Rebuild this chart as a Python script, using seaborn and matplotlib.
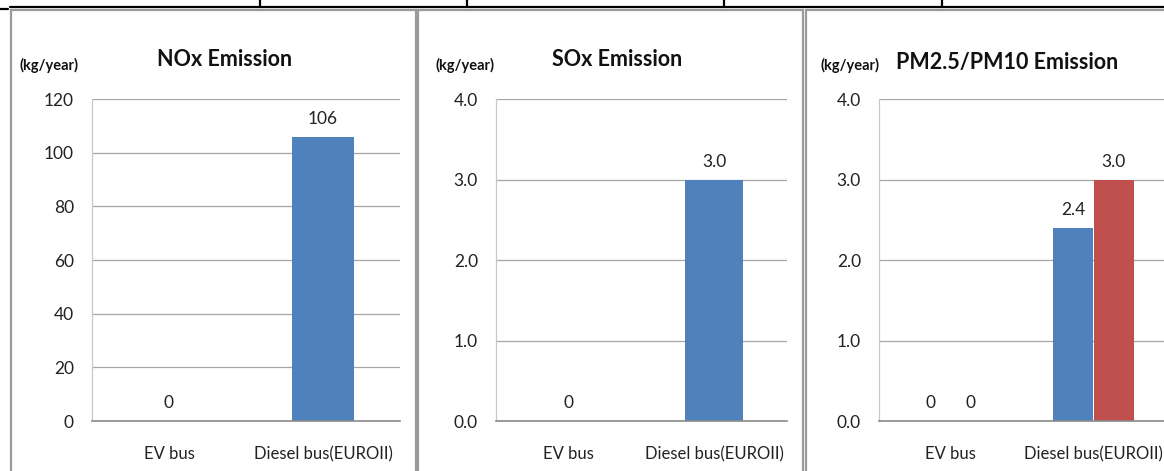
import matplotlib
matplotlib.use("Agg")
import matplotlib.pyplot as plt
from matplotlib.patches import Rectangle
from matplotlib.lines import Line2D
import seaborn as sns
import pandas as pd

# ---- data ----
buses = ["EV bus", "Diesel bus(EUROII)"]
nox_values = [0, 106]
sox_values = [0, 3.0]
pm25_values = [0, 2.4]
pm10_values = [0, 3.0]
pm_series = ["PM2.5", "PM10"]

nox_ticks = [0, 20, 40, 60, 80, 100, 120]
small_ticks = [0.0, 1.0, 2.0, 3.0, 4.0]

BLUE = "#4F81BD"
RED = "#C0504D"

sns.set_theme(style="white")
plt.rcParams["font.family"] = ["Lato", "DejaVu Sans"]

W, H = 1164, 471
fig = plt.figure(figsize=(W / 100, H / 100), dpi=100)

TXT = "#222222"
LBL = 12


def px_axes(x0, x1, y_top, y_bot):
    return fig.add_axes([x0 / W, 1 - y_bot / H, (x1 - x0) / W, (y_bot - y_top) / H])


def style_axes(ax, ticks, fmt):
    ax.set_ylim(ticks[0], ticks[-1])
    ax.set_yticks(ticks)
    ax.set_yticklabels([fmt.format(t) for t in ticks])
    ax.yaxis.grid(True, color="#a6a6a6", linewidth=0.9)
    ax.set_axisbelow(True)
    for side in ["top", "right"]:
        ax.spines[side].set_visible(False)
    ax.spines["left"].set_color("#c8c8c8")
    ax.spines["left"].set_linewidth(0.9)
    ax.spines["bottom"].set_color("#8a8a8a")
    ax.spines["bottom"].set_linewidth(1.2)
    ax.tick_params(axis="y", length=0, pad=13, labelsize=LBL + 0.5, colors=TXT)
    ax.tick_params(axis="x", length=0, pad=18, labelsize=LBL, colors=TXT)
    ax.set_xlabel("")
    ax.set_ylabel("")


def value_labels(vals, fmt):
    return [("0" if v == 0 else fmt.format(v)) for v in vals]


# ---- NOx ----
ax1 = px_axes(92, 400, 99, 421)
df_nox = pd.DataFrame({"bus": buses, "value": nox_values})
sns.barplot(data=df_nox, x="bus", y="value", color=BLUE, width=0.4,
            saturation=1, linewidth=0, ax=ax1)
style_axes(ax1, nox_ticks, "{:d}")
for c in ax1.containers:
    ax1.bar_label(c, labels=value_labels(nox_values, "{:d}"),
                  padding=7, fontsize=LBL + 0.5, color=TXT)

# ---- SOx ----
ax2 = px_axes(496, 787, 99, 421)
df_sox = pd.DataFrame({"bus": buses, "value": sox_values})
sns.barplot(data=df_sox, x="bus", y="value", color=BLUE, width=0.4,
            saturation=1, linewidth=0, ax=ax2)
style_axes(ax2, small_ticks, "{:.1f}")
for c in ax2.containers:
    ax2.bar_label(c, labels=value_labels(sox_values, "{:.1f}"),
                  padding=7, fontsize=LBL + 0.5, color=TXT)

# ---- PM2.5 / PM10 ----
ax3 = px_axes(879, 1165, 99, 421)
df_pm = pd.DataFrame({
    "bus": buses * 2,
    "pollutant": [pm_series[0]] * 2 + [pm_series[1]] * 2,
    "value": pm25_values + pm10_values,
})
sns.barplot(data=df_pm, x="bus", y="value", hue="pollutant",
            palette=[BLUE, RED], width=0.57, saturation=1, gap=0,
            linewidth=0, legend=False, ax=ax3)
style_axes(ax3, small_ticks, "{:.1f}")
for c, vals in zip(ax3.containers, [pm25_values, pm10_values]):
    ax3.bar_label(c, labels=value_labels(vals, "{:.1f}"),
                  padding=7, fontsize=LBL + 0.5, color=TXT)

# ---- titles and units ----
title_kw = dict(fontsize=15.5, fontweight="bold", color="#111111", va="center")
unit_kw = dict(fontsize=10.5, fontweight="bold", color="#111111", va="center")
fig.text(225 / W, 1 - 60 / H, "NOx Emission", ha="center", **title_kw)
fig.text(19 / W, 1 - 65 / H, "(kg/year)", ha="left", **unit_kw)
fig.text(617 / W, 1 - 60 / H, "SOx Emission", ha="center", **title_kw)
fig.text(435 / W, 1 - 65 / H, "(kg/year)", ha="left", **unit_kw)
fig.text(896 / W, 1 - 62 / H, "PM2.5/PM10 Emission", ha="left", **title_kw)
fig.text(820 / W, 1 - 65 / H, "(kg/year)", ha="left", **unit_kw)

# ---- chart frames ----
for x0, x1 in [(11, 416), (418, 803), (806, 1175)]:
    fig.patches.append(Rectangle((x0 / W, -0.05), (x1 - x0) / W, 1 - 10 / H + 0.05,
                                 transform=fig.transFigure, fill=False,
                                 edgecolor="#9a9a9a", linewidth=1.6))

# ---- table rule across the top ----
fig.lines.append(Line2D([10 / W, 1], [1 - 7 / H, 1 - 7 / H], transform=fig.transFigure,
                        color="black", linewidth=1.6))
fig.lines.append(Line2D([0, 8 / W], [1 - 9 / H, 1 - 9 / H], transform=fig.transFigure,
                        color="black", linewidth=1.6))
for xv in [260, 467, 724, 942]:
    fig.lines.append(Line2D([xv / W, xv / W], [1, 1 - 7 / H], transform=fig.transFigure,
                            color="black", linewidth=1.6))

fig.savefig("out.png", dpi=100, facecolor="white")
